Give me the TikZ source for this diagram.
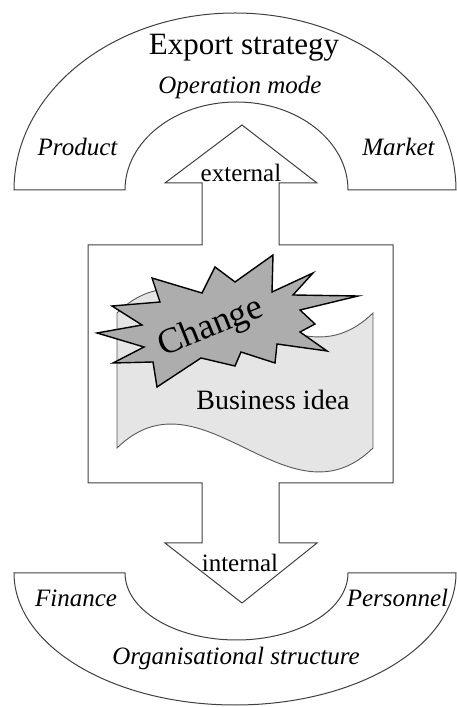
\documentclass[tikz,border=0pt]{standalone}
\usepackage{fontspec}
\setmainfont{Liberation Serif}
\newcommand{\fsz}[1]{\fontsize{#1}{#1}\selectfont}
\begin{document}
\begin{tikzpicture}[x=1pt,y=1pt,
   outl/.style={draw=black!75,line width=1pt,line join=miter},
   lbl/.style={inner sep=0pt,font=\fsz{25}\itshape},
   plain/.style={inner sep=0pt,font=\fsz{25}}]
   \useasboundingbox (0,0) rectangle (457,707);

   % top arch
   \draw[outl,fill=white] (14,517) arc[start angle=180,end angle=0,x radius=221,y radius=177]
   -- (348,517) arc[start angle=0,end angle=180,x radius=111.5,y radius=88] -- cycle;
   % bottom arch
   \draw[outl,fill=white] (14,134) arc[start angle=180,end angle=360,x radius=221,y radius=132]
   -- (348,134) arc[start angle=360,end angle=180,x radius=111.5,y radius=67] -- cycle;

   % box with the two arrows
   \draw[outl,fill=white] (88,462) -- (202,462) -- (202,524) -- (165,524) -- (242,582)
   -- (317,524) -- (279,524) -- (279,462) -- (393,462) -- (393,224) -- (279,224)
   -- (279,164) -- (317,164) -- (242,104) -- (165,164) -- (202,164) -- (202,224)
   -- (88,224) -- cycle;

   % business idea sheet
   \draw[draw=black!65,line width=0.9pt,fill=black!10] (117,259)
   .. controls (202,342) and (288,176) .. (373,259) -- (373,394)
   .. controls (288,311) and (202,477) .. (117,394) -- cycle;

   % change burst
   \draw[draw=black,line width=1.4pt,line join=miter,fill=black!32]
   (97,374) -- (142,382) -- (112,401) -- (160,405) -- (152,429) -- (202,414)
   -- (215,440) -- (235,425) -- (273,452) -- (272,415) -- (313,434) -- (293,412)
   -- (358,411) -- (300,397) -- (315,383) -- (300,375) -- (327,356) -- (277,363)
   -- (275,344) -- (241,355) -- (235,341) -- (201,349) -- (157,320) -- (153,345)
   -- (113,344) -- (144,360) -- cycle;

   \node(change)[inner sep=0pt,font=\fsz{36},rotate=22] at (211,379) {Change};
   \node(idea)[inner sep=0pt,font=\fsz{28}] at (273,307) {Business idea};

   \node(export)[inner sep=0pt,font=\fsz{31}] at (244,659) {Export strategy};
   \node(mode)[lbl] at (240,620) {Operation mode};
   \node(product)[lbl] at (77.5,560) {Product};
   \node(market)[lbl] at (398.5,560) {Market};
   \node(ext)[plain] at (241,534) {external};
   \node(int)[plain] at (240,144) {internal};
   \node(finance)[lbl] at (76,109) {Finance};
   \node(personnel)[lbl] at (397.5,109) {Personnel};
   \node(org)[lbl] at (236,49) {Organisational structure};
\end{tikzpicture}
\end{document}
